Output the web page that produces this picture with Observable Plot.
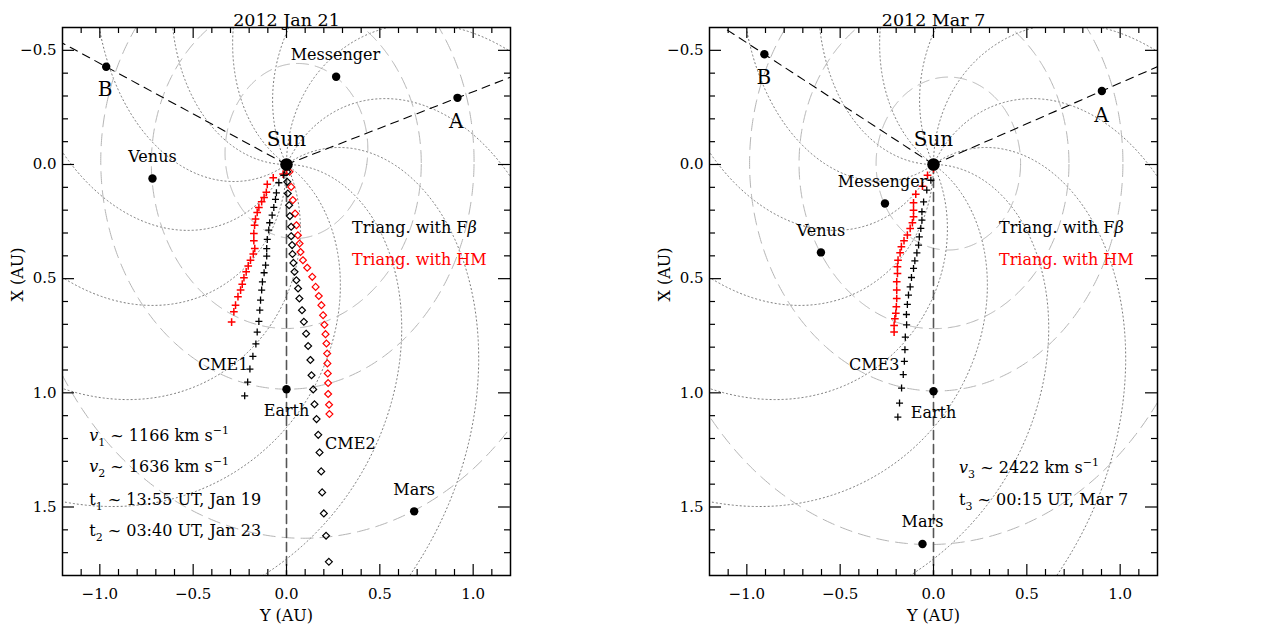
<!DOCTYPE html>
<html>
<head>
<meta charset="utf-8">
<script src="https://cdn.jsdelivr.net/npm/d3@7"></script>
<script src="https://cdn.jsdelivr.net/npm/@observablehq/plot@0.6"></script>
<style>
  body { margin: 0; background: #fff; }
  #wrap { display: flex; width: 1280px; height: 638px; background: #fff; }
</style>
</head>
<body>
<div id="wrap"></div>
<script>
// ---------------- axis ticks ----------------
const xMajorTicks = [-1.0, -0.5, 0.0, 0.5, 1.0];
const xMinorTicks = [-1.1, -0.9, -0.8, -0.7, -0.6, -0.4, -0.3, -0.2, -0.1, 0.1, 0.2, 0.3, 0.4, 0.6, 0.7, 0.8, 0.9, 1.1];
const yMajorTicks = [-0.5, 0.0, 0.5, 1.0, 1.5];
const yMinorTicks = [-0.4, -0.3, -0.2, -0.1, 0.1, 0.2, 0.3, 0.4, 0.6, 0.7, 0.8, 0.9, 1.1, 1.2, 1.3, 1.4, 1.6, 1.7];

// ---------------- panel titles ----------------
const panelTitles = ["2012 Jan 21", "2012 Mar 7"];

// ---------------- Parker spirals (k = v/Omega in AU/rad, footpoint angles deg) ----------------
const spiralK = 1.1;
const spiralFootDeg = [0, 30, 60, 90, 120, 150, 180, 210, 240, 270, 300, 330];

// ---------------- planetary orbits (semi-major axis, eccentricity, perihelion angle) ----------------
const orbitNames = ["Mercury", "Venus", "Earth", "Mars"];
const orbitA = [0.387, 0.723, 1.0, 1.524];
const orbitE = [0.2056, 0.0068, 0.0167, 0.0934];
const janPeriDeg = [132, 78, 107, 234];
const marPeriDeg = [177, 123, 152, 279];

// ---------------- objects (Y, X in AU) ----------------
const janObjNames = ["B", "A", "Messenger", "Venus", "Earth", "Mars"];
const janObjY = [-0.966, 0.916, 0.266, -0.718, 0.0, 0.684];
const janObjX = [-0.428, -0.292, -0.384, 0.061, 0.984, 1.519];
const marObjNames = ["B", "A", "Messenger", "Venus", "Earth", "Mars"];
const marObjY = [-0.906, 0.902, -0.260, -0.603, 0.0, -0.059];
const marObjX = [-0.483, -0.322, 0.171, 0.385, 0.993, 1.662];

// ---------------- CME tracks ----------------
const janCme1FbY = [-0.014,-0.041,-0.054,-0.059,-0.068,-0.077,-0.090,-0.095,-0.103,-0.106,-0.106,-0.112,-0.120,-0.129,-0.133,-0.139,-0.143,-0.148,-0.157,-0.164,-0.180,-0.196,-0.208,-0.224];
const janCme1FbX = [0.047,0.080,0.124,0.153,0.188,0.222,0.255,0.287,0.328,0.368,0.401,0.441,0.474,0.514,0.550,0.594,0.638,0.687,0.734,0.786,0.840,0.896,0.953,1.013];
const janCme1HmY = [-0.018,-0.071,-0.103,-0.108,-0.120,-0.133,-0.148,-0.157,-0.166,-0.171,-0.175,-0.175,-0.170,-0.178,-0.193,-0.205,-0.216,-0.228,-0.237,-0.246,-0.260,-0.273,-0.282,-0.294];
const janCme1HmX = [0.042,0.058,0.087,0.122,0.144,0.163,0.188,0.210,0.239,0.266,0.302,0.334,0.368,0.392,0.419,0.444,0.470,0.496,0.524,0.550,0.579,0.616,0.645,0.690];
const janCme2FbY = [0.004,0.004,0.007,0.014,0.018,0.025,0.025,0.030,0.032,0.037,0.043,0.053,0.062,0.069,0.083,0.093,0.105,0.116,0.128,0.134,0.143,0.150,0.161,0.170,0.177,0.186,0.191,0.200,0.212,0.227];
const janCme2FbX = [0.032,0.076,0.127,0.178,0.226,0.273,0.314,0.353,0.392,0.431,0.470,0.507,0.543,0.587,0.638,0.689,0.741,0.795,0.856,0.923,0.985,1.050,1.115,1.184,1.261,1.344,1.436,1.528,1.626,1.740];
const janCme2HmY = [0.016,0.025,0.034,0.046,0.053,0.061,0.070,0.075,0.088,0.111,0.138,0.156,0.173,0.187,0.196,0.203,0.209,0.214,0.218,0.219,0.221,0.223,0.223,0.228,0.230];
const janCme2HmX = [0.032,0.098,0.156,0.215,0.266,0.310,0.346,0.383,0.419,0.452,0.492,0.536,0.576,0.616,0.660,0.702,0.743,0.784,0.828,0.871,0.915,0.957,1.005,1.052,1.093];
const marCme3FbY = [-0.014,-0.036,-0.053,-0.062,-0.062,-0.068,-0.076,-0.080,-0.089,-0.100,-0.107,-0.118,-0.125,-0.134,-0.140,-0.145,-0.144,-0.151,-0.153,-0.156,-0.162,-0.171,-0.182,-0.191];
const marCme3FbX = [0.069,0.112,0.164,0.207,0.244,0.280,0.317,0.353,0.387,0.422,0.455,0.495,0.536,0.572,0.613,0.657,0.702,0.756,0.811,0.862,0.920,0.979,1.045,1.106];
const marCme3HmY = [0.000,-0.032,-0.059,-0.095,-0.107,-0.107,-0.107,-0.113,-0.125,-0.140,-0.158,-0.172,-0.179,-0.190,-0.193,-0.193,-0.197,-0.197,-0.197,-0.199,-0.202,-0.207,-0.211,-0.211];
const marCme3HmX = [0.018,0.047,0.095,0.130,0.168,0.200,0.229,0.255,0.280,0.309,0.334,0.360,0.387,0.419,0.448,0.477,0.514,0.550,0.587,0.623,0.652,0.676,0.705,0.734];

// ---------------- labels ----------------
const janBigText = ["Sun", "A", "B"];
const janBigY = [0.0, 0.909, -0.972];
const janBigX = [-0.109, -0.186, -0.328];
const marBigText = ["Sun", "A", "B"];
const marBigY = [0.0, 0.900, -0.909];
const marBigX = [-0.109, -0.216, -0.381];

const janLabelText = ["Messenger", "Venus", "Earth", "Mars", "CME1", "CME2"];
const janLabelY = [0.262, -0.718, 0.0, 0.684, -0.339, 0.342];
const janLabelX = [-0.478, -0.033, 1.078, 1.424, 0.877, 1.224];
const marLabelText = ["Messenger", "Venus", "Earth", "Mars", "CME3"];
const marLabelY = [-0.273, -0.603, 0.0, -0.059, -0.318];
const marLabelX = [0.076, 0.290, 1.088, 1.565, 0.877];

const legendText = ["Triang. with F%β%", "Triang. with HM"];
const legendY = 0.351;
const legendX = [0.277, 0.416];

const janInfoText = ["%v%_{1} ~ 1166 km s^{−1}", "%v%_{2} ~ 1636 km s^{−1}", "t_{1} ~ 13:55 UT, Jan 19", "t_{2} ~ 03:40 UT, Jan 23"];
const janInfoY = -1.057;
const janInfoX = [1.190, 1.326, 1.468, 1.606];
const marInfoText = ["%v%_{3} ~ 2422 km s^{−1}", "t_{3} ~ 00:15 UT, Mar 7"];
const marInfoY = 0.137;
const marInfoX = [1.329, 1.468];

// ---------------- helpers ----------------
const zipPts = (Ys, Xs) => Ys.map((y, i) => ({Y: y, X: Xs[i]}));

function spiralPoints() {
  const pts = [];
  spiralFootDeg.forEach((f, i) => {
    for (let r = 0; r <= 2.4; r += 0.004) {
      const th = f * Math.PI / 180 + r / spiralK;
      pts.push({id: i, Y: r * Math.cos(th), X: r * Math.sin(th)});
    }
  });
  return pts;
}

function orbitPoints(periDeg) {
  const pts = [];
  orbitA.forEach((a, i) => {
    const e = orbitE[i], p = periDeg[i] * Math.PI / 180;
    for (let d = 0; d <= 360; d += 0.5) {
      const th = d * Math.PI / 180;
      const r = a * (1 - e * e) / (1 + e * Math.cos(th - p));
      pts.push({id: orbitNames[i], Y: r * Math.cos(th), X: r * Math.sin(th)});
    }
  });
  return pts;
}

function richText(svg) {
  const NS = "http://www.w3.org/2000/svg";
  svg.querySelectorAll("text").forEach(el => {
    const t = el.textContent;
    if (!/[%_^]/.test(t)) return;
    while (el.firstChild) el.removeChild(el.firstChild);
    const re = /%([^%]*)%|_\{([^}]*)\}|\^\{([^}]*)\}|([^%_^]+)/g;
    let m, cur = 0;
    while ((m = re.exec(t)) !== null) {
      const ts = document.createElementNS(NS, "tspan");
      let target = 0;
      if (m[1] !== undefined) { ts.setAttribute("font-style", "italic"); ts.textContent = m[1]; }
      else if (m[2] !== undefined) { target = 5; ts.setAttribute("font-size", "11"); ts.textContent = m[2]; }
      else if (m[3] !== undefined) { target = -7; ts.setAttribute("font-size", "11"); ts.textContent = m[3]; }
      else ts.textContent = m[4];
      if (target !== cur) { ts.setAttribute("dy", target - cur); cur = target; }
      el.appendChild(ts);
    }
  });
}

const fmt = d3.format(".1f");

function panel(cfg) {
  const W = 640, H = 638, mt = 27, mb = 63, fw = 448;
  const fh = H - mt - mb;
  const objs = cfg.objNames.map((n, i) => ({name: n, Y: cfg.objY[i], X: cfg.objX[i]}));
  const objA = objs.find(o => o.name === "A"), objB = objs.find(o => o.name === "B");
  const earth = objs.find(o => o.name === "Earth");
  const rays = [
    {id: "A", Y: 0, X: 0}, {id: "A", Y: objA.Y * 3, X: objA.X * 3},
    {id: "B", Y: 0, X: 0}, {id: "B", Y: objB.Y * 3, X: objB.X * 3}
  ];
  const sunEarth = [{Y: 0, X: 0}, {Y: earth.Y * 2, X: earth.X * 2}];
  const sun = [{Y: 0, X: 0}];
  const big = cfg.bigText.map((t, i) => ({t, Y: cfg.bigY[i], X: cfg.bigX[i]}));
  const labels = cfg.labelText.map((t, i) => ({t, Y: cfg.labelY[i], X: cfg.labelX[i]}));
  const info = cfg.infoText.map((t, i) => ({t, Y: cfg.infoY, X: cfg.infoX[i]}));
  const legend = legendText.map((t, i) => ({t, Y: legendY, X: legendX[i], c: i === 0 ? "black" : "red"}));

  const marks = [
    Plot.line(spiralPoints(), {x: "Y", y: "X", z: "id", stroke: "#7a7a7a", strokeWidth: 1, strokeDasharray: "1.2,2.8", clip: true}),
    Plot.line(orbitPoints(cfg.peri), {x: "Y", y: "X", z: "id", stroke: "#b5b5b5", strokeWidth: 1, strokeDasharray: "12,7", clip: true}),
    Plot.line(sunEarth, {x: "Y", y: "X", stroke: "#555", strokeWidth: 1.6, strokeDasharray: "9,5", clip: true}),
    Plot.line(rays, {x: "Y", y: "X", z: "id", stroke: "black", strokeWidth: 1.1, strokeDasharray: "8,6", clip: true})
  ];
  cfg.tracks.forEach(tr => {
    marks.push(Plot.dot(zipPts(tr.Y, tr.X), {x: "Y", y: "X", symbol: tr.symbol, r: tr.r, fill: "none", stroke: tr.color, strokeWidth: tr.sw}));
  });
  marks.push(
    Plot.dot(objs, {x: "Y", y: "X", r: 4.2, fill: "black"}),
    Plot.dot(sun, {x: "Y", y: "X", r: 6.3, fill: "black"}),
    Plot.text(big, {x: "Y", y: "X", text: "t", fontSize: 20}),
    Plot.text(labels, {x: "Y", y: "X", text: "t", fontSize: 16}),
    Plot.text(legend, {x: "Y", y: "X", text: "t", fill: "c", textAnchor: "start", fontSize: 16}),
    Plot.text(info, {x: "Y", y: "X", text: "t", textAnchor: "start", fontSize: 16}),
    // frame and inward ticks on all sides
    Plot.frame({stroke: "black", strokeWidth: 1.5}),
    Plot.tickX(xMajorTicks, {x: d => d, stroke: "black", strokeWidth: 1.2, insetTop: fh - 11}),
    Plot.tickX(xMajorTicks, {x: d => d, stroke: "black", strokeWidth: 1.2, insetBottom: fh - 11}),
    Plot.tickX(xMinorTicks, {x: d => d, stroke: "black", strokeWidth: 1.2, insetTop: fh - 6}),
    Plot.tickX(xMinorTicks, {x: d => d, stroke: "black", strokeWidth: 1.2, insetBottom: fh - 6}),
    Plot.tickY(yMajorTicks, {y: d => d, stroke: "black", strokeWidth: 1.2, insetRight: fw - 12}),
    Plot.tickY(yMajorTicks, {y: d => d, stroke: "black", strokeWidth: 1.2, insetLeft: fw - 12}),
    Plot.tickY(yMinorTicks, {y: d => d, stroke: "black", strokeWidth: 1.2, insetRight: fw - 6}),
    Plot.tickY(yMinorTicks, {y: d => d, stroke: "black", strokeWidth: 1.2, insetLeft: fw - 6}),
    Plot.text(xMajorTicks, {x: d => d, text: d => fmt(d), frameAnchor: "bottom", dy: 23, fontSize: 15}),
    Plot.text(yMajorTicks, {y: d => d, text: d => fmt(d), frameAnchor: "left", dx: -6, textAnchor: "end", fontSize: 15}),
    Plot.text(["Y (AU)"], {x: 0, text: d => d, frameAnchor: "bottom", dy: 45, fontSize: 16}),
    Plot.text(["X (AU)"], {y: 0.6, text: d => d, frameAnchor: "left", dx: -45, rotate: -90, fontSize: 16}),
    Plot.text([cfg.title], {x: 0, text: d => d, frameAnchor: "top", dy: -14, fontSize: 17.5})
  );

  const svg = Plot.plot({
    width: W, height: H,
    marginTop: mt, marginBottom: mb, marginLeft: cfg.ml, marginRight: W - cfg.ml - fw,
    x: {domain: [-1.2, 1.2], axis: null},
    y: {domain: [1.8, -0.6], axis: null},
    style: {fontFamily: "'DejaVu Serif', serif", background: "white", color: "black", overflow: "visible"},
    marks
  });
  richText(svg);
  return svg;
}

const wrap = document.getElementById("wrap");
wrap.appendChild(panel({
  title: panelTitles[0], ml: 62, peri: janPeriDeg,
  objNames: janObjNames, objY: janObjY, objX: janObjX,
  bigText: janBigText, bigY: janBigY, bigX: janBigX,
  labelText: janLabelText, labelY: janLabelY, labelX: janLabelX,
  infoText: janInfoText, infoY: janInfoY, infoX: janInfoX,
  tracks: [
    {Y: janCme2HmY, X: janCme2HmX, symbol: "diamond2", r: 3.1, color: "red", sw: 1.2},
    {Y: janCme2FbY, X: janCme2FbX, symbol: "diamond2", r: 3.1, color: "black", sw: 1.2},
    {Y: janCme1HmY, X: janCme1HmX, symbol: "plus", r: 2.6, color: "red", sw: 1.5},
    {Y: janCme1FbY, X: janCme1FbX, symbol: "plus", r: 2.4, color: "black", sw: 1.3}
  ]
}));
wrap.appendChild(panel({
  title: panelTitles[1], ml: 69, peri: marPeriDeg,
  objNames: marObjNames, objY: marObjY, objX: marObjX,
  bigText: marBigText, bigY: marBigY, bigX: marBigX,
  labelText: marLabelText, labelY: marLabelY, labelX: marLabelX,
  infoText: marInfoText, infoY: marInfoY, infoX: marInfoX,
  tracks: [
    {Y: marCme3HmY, X: marCme3HmX, symbol: "plus", r: 2.6, color: "red", sw: 1.5},
    {Y: marCme3FbY, X: marCme3FbX, symbol: "plus", r: 2.4, color: "black", sw: 1.3}
  ]
}));
</script>
</body>
</html>
